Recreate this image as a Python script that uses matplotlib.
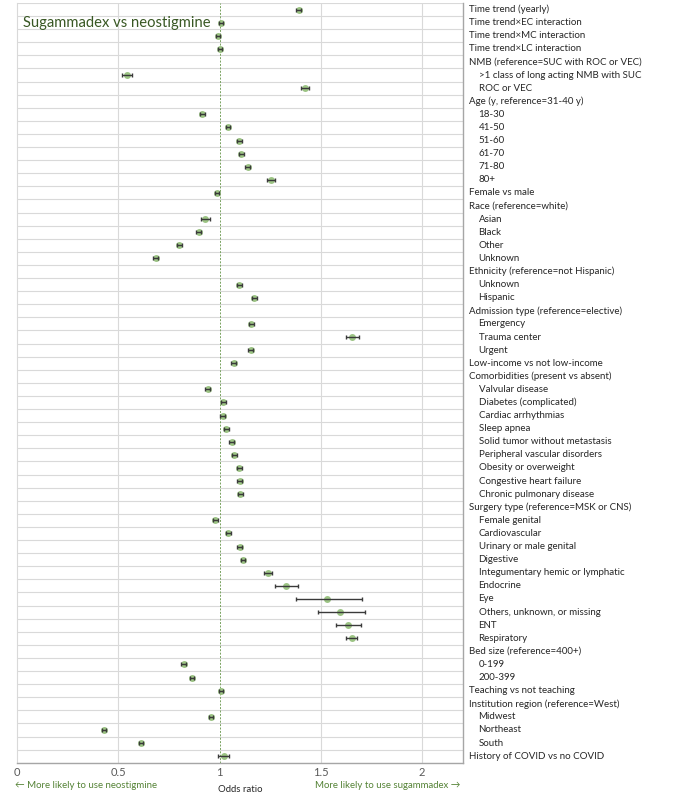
import matplotlib
matplotlib.use("Agg")
import matplotlib.pyplot as plt
import matplotlib.transforms as mtransforms
import numpy as np

# ── data ──────────────────────────────────────────────────────────────────────
labels = [
    "Time trend (yearly)", "Time trend\u00d7EC interaction", "Time trend\u00d7MC interaction",
    "Time trend\u00d7LC interaction", "NMB (reference=SUC with ROC or VEC)",
    ">1 class of long acting NMB with SUC", "ROC or VEC", "Age (y, reference=31-40 y)",
    "18-30", "41-50", "51-60", "61-70", "71-80", "80+", "Female vs male",
    "Race (reference=white)", "Asian", "Black", "Other", "Unknown",
    "Ethnicity (reference=not Hispanic)", "Unknown", "Hispanic",
    "Admission type (reference=elective)", "Emergency", "Trauma center", "Urgent",
    "Low-income vs not low-income", "Comorbidities (present vs absent)",
    "Valvular disease", "Diabetes (complicated)", "Cardiac arrhythmias", "Sleep apnea",
    "Solid tumor without metastasis", "Peripheral vascular disorders",
    "Obesity or overweight", "Congestive heart failure", "Chronic pulmonary disease",
    "Surgery type (reference=MSK or CNS)", "Female genital", "Cardiovascular",
    "Urinary or male genital", "Digestive", "Integumentary hemic or lymphatic",
    "Endocrine", "Eye", "Others, unknown, or missing", "ENT", "Respiratory",
    "Bed size (reference=400+)", "0-199", "200-399", "Teaching vs not teaching",
    "Institution region (reference=West)", "Midwest", "Northeast", "South",
    "History of COVID vs no COVID",
]
# indented sub-items (1) vs top-level rows (0)
indent = [0, 0, 0, 0, 0, 1, 1, 0, 1, 1, 1, 1, 1, 1, 0, 0, 1, 1, 1, 1, 0, 1, 1,
          0, 1, 1, 1, 0, 0, 1, 1, 1, 1, 1, 1, 1, 1, 1, 0, 1, 1, 1, 1, 1, 1, 1,
          1, 1, 1, 0, 1, 1, 0, 0, 1, 1, 1, 0]
nan = np.nan
odds = [1.39, 1.007, 0.991, 1.0, nan, 0.541, 1.422, nan, 0.915, 1.041, 1.098, 1.107,
        1.139, 1.252, 0.985, nan, 0.928, 0.896, 0.80, 0.685, nan, 1.096, 1.172, nan,
        1.157, 1.652, 1.154, 1.07, nan, 0.941, 1.017, 1.015, 1.033, 1.059, 1.072,
        1.098, 1.10, 1.102, nan, 0.978, 1.043, 1.10, 1.115, 1.237, 1.326, 1.53,
        1.596, 1.633, 1.652, nan, 0.822, 0.863, 1.007, nan, 0.957, 0.428, 0.613, 1.02]
ci_low = [1.378, 0.997, 0.981, 0.99, nan, 0.517, 1.404, nan, 0.903, 1.029, 1.086,
          1.095, 1.127, 1.233, 0.975, nan, 0.909, 0.884, 0.788, 0.673, nan, 1.084,
          1.16, nan, 1.145, 1.626, 1.142, 1.058, nan, 0.929, 1.005, 1.003, 1.021,
          1.047, 1.06, 1.086, 1.088, 1.09, nan, 0.966, 1.031, 1.088, 1.103, 1.217,
          1.274, 1.378, 1.485, 1.574, 1.626, nan, 0.81, 0.851, 0.997, nan, 0.945,
          0.418, 0.603, 0.991]
ci_high = [1.402, 1.017, 1.001, 1.01, nan, 0.565, 1.443, nan, 0.927, 1.053, 1.11,
           1.119, 1.151, 1.274, 0.995, nan, 0.95, 0.908, 0.812, 0.697, nan, 1.108,
           1.184, nan, 1.169, 1.687, 1.166, 1.082, nan, 0.953, 1.029, 1.027, 1.045,
           1.071, 1.084, 1.11, 1.112, 1.114, nan, 0.99, 1.055, 1.112, 1.127, 1.259,
           1.387, 1.704, 1.72, 1.698, 1.68, nan, 0.834, 0.875, 1.017, nan, 0.969,
           0.438, 0.623, 1.048]

# ── colours ───────────────────────────────────────────────────────────────────
C_MARK = "#9cc484"
C_ERR = "#3a3a3a"
C_TITLE = "#385723"
C_NOTE = "#548235"
C_GRID = "#d9d9d9"

plt.rcParams["font.family"] = ["Lato", "DejaVu Sans"]

fig = plt.figure(figsize=(6.88, 7.99), dpi=100)
W, H = 688, 799
ax = fig.add_axes([17.3 / W, 1 - 762.7 / H, (462.5 - 17.3) / W, (762.7 - 3) / H])

n = len(labels)
y = np.arange(1, n + 1)
odds = np.array(odds)
lo = np.array(ci_low)
hi = np.array(ci_high)

ax.set_xlim(0, 2.2)
ax.set_ylim(n + 0.5, 0.5)

# grid
for b in np.arange(0.5, n + 1, 1):
    ax.axhline(b, color=C_GRID, lw=0.8, zorder=0)
for gx in [0.5, 1.5, 2.0]:
    ax.axvline(gx, color=C_GRID, lw=0.8, zorder=0)
ax.axvline(1.0, color="#78a25f", lw=0.7, ls=(0, (2, 1.5)), zorder=1)

ok = ~np.isnan(odds)
ax.plot(odds[ok], y[ok], "o", ms=5, color=C_MARK, mec="none", zorder=3)
ax.errorbar(odds[ok], y[ok], xerr=[odds[ok] - lo[ok], hi[ok] - odds[ok]], fmt="none",
            ecolor=C_ERR, elinewidth=1, capsize=1.7, capthick=1, zorder=4)

# axes styling
ax.spines["top"].set_visible(False)
ax.spines["left"].set_color(C_GRID)
ax.spines["left"].set_linewidth(0.8)
ax.spines["bottom"].set_color("#a6a6a6")
ax.spines["right"].set_color("#a6a6a6")
ax.spines["bottom"].set_linewidth(1.0)
ax.spines["right"].set_linewidth(1.0)
ax.set_yticks([])
ax.set_xticks([0, 0.5, 1, 1.5, 2])
ax.set_xticklabels(["0", "0.5", "1", "1.5", "2"], fontsize=8, color="#595959")
ax.tick_params(axis="x", length=0, pad=3)

# row labels on the right
trans = mtransforms.blended_transform_factory(ax.transAxes, ax.transData)
for yi, lab, ind in zip(y, labels, indent):
    ax.text(1.0155 + 0.0205 * ind, yi, lab, transform=trans, ha="left", va="center",
            fontsize=7.0, color="#262626")

ax.text(0.012, 2.05, "Sugammadex vs neostigmine", transform=trans, ha="left",
        va="center", fontsize=10.6, color=C_TITLE)

fig.text(15 / W, 1 - 785 / H, "\u2190 More likely to use neostigmine", ha="left",
         va="center", fontsize=6.9, color=C_NOTE)
fig.text(460 / W, 1 - 785 / H, "More likely to use sugammadex \u2192", ha="right",
         va="center", fontsize=6.9, color=C_NOTE)
fig.text(240 / W, 1 - 790 / H, "Odds ratio", ha="center", va="center",
         fontsize=6.9, color="#262626")

plt.savefig("out.png", dpi=100)
